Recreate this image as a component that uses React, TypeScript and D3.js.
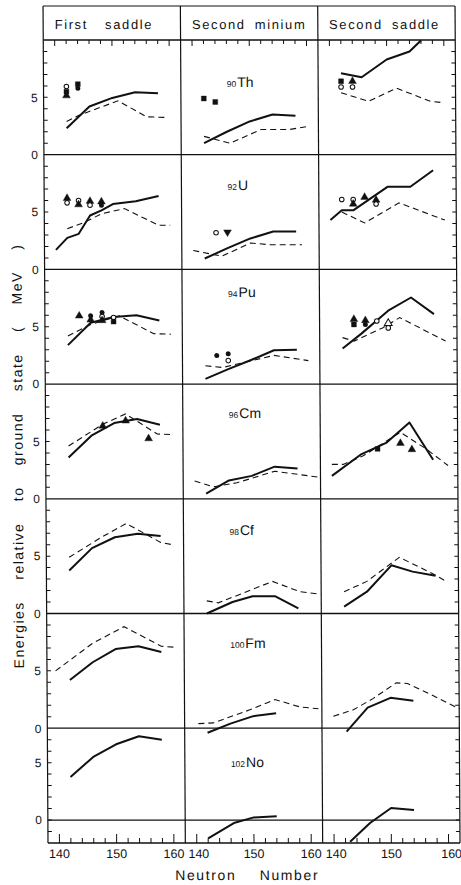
import React from "react";
import * as d3 from "d3";

type Pt = [number, number];
type Mk = [number, number, string];

// ---------- text ----------
const columnTitles = ["First saddle", "Second minium", "Second saddle"];
const atomicNumbers = ["90", "92", "94", "96", "98", "100", "102"];
const elements = ["Th", "U", "Pu", "Cm", "Cf", "Fm", "No"];
const nTickLabels = [140, 150, 160];
const eTickLabels = [0, 5];
const xTitle = "Neutron Number";
const yTitle = "Energies relative to ground state ( MeV )";

// ---------- data: [neutron number, energy MeV] ----------
const solidFirstSaddle: Pt[][] = [
  [[142, 2.3], [146, 4.2], [150, 4.95], [154, 5.45], [158, 5.35]],
  [[140, 1.7], [142, 2.75], [144, 3.1], [146, 4.7], [148, 5.15], [150, 5.7], [154, 5.95], [158, 6.4]],
  [[142, 3.4], [146, 5.35], [150, 5.85], [154, 6.0], [158, 5.55]],
  [[142, 3.6], [146, 5.5], [150, 6.6], [154, 6.95], [158, 6.45]],
  [[142, 3.75], [146, 5.7], [150, 6.65], [154, 6.95], [158, 6.75]],
  [[142, 4.2], [146, 5.75], [150, 6.9], [154, 7.15], [158, 6.65]],
  [[142, 3.75], [146, 5.5], [150, 6.6], [154, 7.3], [158, 7.0]],
];
const dashedFirstSaddle: Pt[][] = [
  [[142, 2.9], [144, 3.4], [151, 4.7], [156, 3.3], [159.5, 3.25]],
  [[142, 3.55], [145, 4.1], [148, 4.85], [152, 5.3], [158, 3.85], [160, 3.85]],
  [[142, 4.2], [146, 5.2], [151, 5.95], [157, 4.4], [160, 4.35]],
  [[142, 4.6], [148, 6.5], [152, 7.4], [157.5, 5.65], [160, 5.6]],
  [[142, 4.9], [147.5, 6.6], [152, 7.85], [158, 6.2], [160, 6.0]],
  [[139.5, 5.0], [146, 7.4], [151.5, 8.85], [158, 7.15], [160.5, 7.05]],
  [],
];
const markersFirstSaddle: Mk[][] = [
  [[142, 5.95, "oc"], [142, 5.5, "fs"], [142, 5.15, "ft"], [144, 6.15, "fs"], [144, 5.8, "fc"]],
  [[142, 6.2, "ft"], [142, 5.8, "oc"], [144, 6.0, "oc"], [144, 5.65, "ft"], [146, 5.95, "ft"], [146, 5.6, "oc"], [148, 5.9, "ft"], [148, 5.6, "fc"]],
  [[144, 5.95, "ft"], [146, 5.95, "fc"], [146, 5.6, "ft"], [148, 6.25, "fc"], [148, 5.9, "oc"], [148, 5.55, "ft"], [150, 5.8, "oc"], [150, 5.45, "fs"]],
  [[148, 6.35, "ft"], [152, 6.8, "ft"], [156, 5.25, "ft"]],
  [], [], [],
];

const solidSecondMin: Pt[][] = [
  [[142, 1.0], [146, 2.0], [150, 2.9], [154, 3.5], [158, 3.4]],
  [[142, 0.95], [146, 1.85], [150, 2.7], [154, 3.3], [158, 3.3]],
  [[142, 0.45], [146, 1.3], [150, 2.1], [154, 2.95], [158, 3.0]],
  [[142, 0.45], [146, 1.6], [150, 2.0], [154, 2.8], [158, 2.65]],
  [[142, 0.0], [146.5, 1.0], [150, 1.5], [154, 1.5], [158, 0.45]],
  [[142, -0.4], [146, 0.4], [150, 1.05], [154, 1.3]],
  [[142, -1.6], [146.5, -0.26], [150, 0.23], [154, 0.32]],
];
const dashedSecondMin: Pt[][] = [
  [[142, 1.6], [146.5, 1.0], [152, 2.2], [157, 2.2], [160.5, 2.5]],
  [[140, 1.65], [145, 1.15], [150, 2.3], [153.5, 2.15], [159, 2.15]],
  [[142, 1.6], [145, 1.45], [154, 2.5], [160, 2.05]],
  [[140, 1.55], [143.3, 1.05], [147.4, 1.4], [154, 2.4], [161.5, 1.9]],
  [[142, 1.1], [144, 0.93], [149.5, 2.0], [153.5, 2.8], [158.3, 1.9], [161.5, 1.7]],
  [[140.4, 0.4], [143, 0.46], [149.4, 1.6], [153.8, 2.5], [158.2, 1.85], [161.4, 1.7]],
  [],
];
const markersSecondMin: Mk[][] = [
  [[142, 4.9, "fs"], [144, 4.6, "fs"]],
  [[144, 3.2, "oc"], [146, 3.25, "fit"]],
  [[144, 2.5, "fc"], [146, 2.65, "fc"], [146, 2.05, "oc"]],
  [], [], [], [],
];

const solidSecondSaddle: Pt[][] = [
  [[142, 7.1], [145.6, 6.75], [150, 8.3], [154, 9.0], [156, 9.95]],
  [[140, 4.3], [142, 5.15], [144, 5.15], [150, 7.2], [154, 7.2], [158, 8.65]],
  [[142, 3.1], [145.3, 4.4], [150, 6.4], [154, 7.55], [158, 6.1]],
  [[140, 2.0], [145.2, 3.9], [149.6, 4.9], [153.6, 6.65], [157.7, 3.4]],
  [[142, 0.6], [146, 1.9], [150.3, 4.2], [154, 3.65], [158, 3.3]],
  [[142.3, -0.3], [146, 1.8], [150, 2.65], [154, 2.4]],
  [[142.8, -1.9], [146.3, -0.26], [150, 1.05], [154, 0.87]],
];
const dashedSecondSaddle: Pt[][] = [
  [[142, 5.4], [146.8, 4.65], [151.7, 5.8], [157.6, 4.65], [159.6, 4.55]],
  [[142, 5.0], [146, 4.05], [152, 5.8], [160, 4.3]],
  [[142, 4.05], [144, 3.75], [149, 4.9], [152, 5.8], [160, 3.75]],
  [[140, 3.0], [142, 3.0], [145.5, 3.75], [152, 5.8], [156.5, 4.35], [160.3, 2.9]],
  [[142, 1.9], [146, 2.8], [151.7, 4.9], [157.6, 3.45], [160, 2.75]],
  [[140, 1.05], [143.5, 1.6], [147, 2.6], [151, 3.95], [153, 3.9], [156.8, 3.0], [162, 1.7]],
  [],
];
const markersSecondSaddle: Mk[][] = [
  [[142, 6.4, "fs"], [142, 5.9, "oc"], [144, 6.4, "ft"], [144, 5.9, "oc"]],
  [[142, 6.1, "oc"], [144, 6.1, "oc"], [144, 5.7, "ft"], [146, 6.3, "ft"], [148, 6.05, "ft"], [148, 5.7, "oc"]],
  [[144, 5.65, "ft"], [144, 5.2, "fs"], [146, 5.55, "ft"], [146, 5.2, "fc"], [148, 5.5, "oc"], [150, 5.3, "ot"], [150, 4.9, "oc"]],
  [[148, 4.35, "fs"], [152, 4.85, "ft"], [154, 4.3, "ft"]],
  [], [], [],
];

const solidCols = [solidFirstSaddle, solidSecondMin, solidSecondSaddle];
const dashedCols = [dashedFirstSaddle, dashedSecondMin, dashedSecondSaddle];
const markerCols = [markersFirstSaddle, markersSecondMin, markersSecondSaddle];

// ---------- layout ----------
const L = 43;
const R = 455;
const HEAD_TOP = 6;
const HEAD_BOT = 40;
const ROW_H = 114.7;
const BOTTOM = 843;
const labelE = [5.9, 6.9, 7.6, 7.05, 6.85, 7.0, 4.6];
const titleShift = [-8, 0, -2];
const titleWordSpacing = [12, 4, 4];
const FONT = "'Liberation Sans', Arial, sans-serif";
const INK = "#111";

const colW = (R - L) / 3;
const xScales = [0, 1, 2].map((c) =>
  d3.scaleLinear().domain([138, 162]).range([L + c * colW, L + (c + 1) * colW])
);
const yScales = d3.range(7).map((r) => {
  const top = HEAD_BOT + r * ROW_H;
  return r < 6
    ? d3.scaleLinear().domain([0, 10]).range([top + ROW_H, top])
    : d3.scaleLinear().domain([-2, 8]).range([BOTTOM, top]);
});

function Marker({ x, y, t }: { x: number; y: number; t: string }) {
  if (t === "oc") return <circle cx={x} cy={y} r={2.3} fill="#fff" stroke={INK} strokeWidth={1} />;
  if (t === "fc") return <circle cx={x} cy={y} r={2.5} fill={INK} />;
  const sym = t === "fs" ? d3.symbolSquare : d3.symbolTriangle;
  const size = t === "fs" ? 24 : 26;
  const path = d3.symbol(sym, size)() || "";
  const rot = t === "fit" ? 180 : 0;
  const filled = t !== "ot";
  return (
    <path
      d={path}
      transform={`translate(${x},${y}) rotate(${rot})`}
      fill={filled ? INK : "#fff"}
      stroke={INK}
      strokeWidth={filled ? 0.4 : 1}
    />
  );
}

export default function App() {
  const line = (c: number, r: number) =>
    d3
      .line<Pt>()
      .x((d) => xScales[c](d[0]))
      .y((d) => yScales[r](d[1]));

  const nTicks = d3.range(138, 163, 2);

  return (
    <svg
      width={461}
      height={885}
      style={{ position: "absolute", left: 0, top: 0, background: "#fff" }}
      fontFamily={FONT}
    >
      <g transform="skewX(0.34)">
        {/* header box */}
        <line x1={L} x2={R} y1={HEAD_TOP} y2={HEAD_TOP} stroke={INK} strokeWidth={1.2} />
        {columnTitles.map((t, c) => (
          <text
            key={t}
            x={xScales[c].range()[0] + colW / 2 + titleShift[c]}
            y={29}
            textAnchor="middle"
            fontSize={13}
            letterSpacing={1.6}
            wordSpacing={titleWordSpacing[c]}
            fill={INK}
          >
            {t}
          </text>
        ))}
        {/* horizontal separators */}
        {d3.range(7).map((r) => (
          <line
            key={"h" + r}
            x1={L}
            x2={R}
            y1={yScales[r].range()[1]}
            y2={yScales[r].range()[1]}
            stroke={INK}
            strokeWidth={1.3}
          />
        ))}
        <line x1={L} x2={R} y1={yScales[6](0)} y2={yScales[6](0)} stroke={INK} strokeWidth={1.3} />
        <line x1={L} x2={R} y1={BOTTOM} y2={BOTTOM} stroke={INK} strokeWidth={1.3} />
        {/* vertical lines */}
        {[0, 1, 2, 3].map((i) => (
          <line
            key={"v" + i}
            x1={L + i * colW}
            x2={L + i * colW}
            y1={HEAD_TOP}
            y2={BOTTOM}
            stroke={INK}
            strokeWidth={1.2}
          />
        ))}
        {/* energy ticks on left and right */}
        {d3.range(7).map((r) => {
          const dom = yScales[r].domain();
          const vals = d3.range(dom[0] + 1, dom[1]);
          return (
            <g key={"et" + r} stroke={INK} strokeWidth={1}>
              {vals.map((v) => (
                <g key={v}>
                  <line x1={L} x2={L + 4} y1={yScales[r](v)} y2={yScales[r](v)} />
                  <line x1={R - 4} x2={R} y1={yScales[r](v)} y2={yScales[r](v)} />
                </g>
              ))}
            </g>
          );
        })}
        {/* energy tick labels */}
        {d3.range(7).map((r) =>
          eTickLabels.map((v) => (
            <text
              key={"el" + r + v}
              x={L - 6}
              y={yScales[r](v)}
              dy="0.36em"
              textAnchor="end"
              fontSize={12}
              fill={INK}
            >
              {v}
            </text>
          ))
        )}
        {/* neutron ticks top & bottom */}
        {[0, 1, 2].map((c) => (
          <g key={"nt" + c} stroke={INK} strokeWidth={1}>
            {nTicks.map((n) => (
              <g key={n}>
                {n > 138 && n < 162 && (
                  <line x1={xScales[c](n)} x2={xScales[c](n)} y1={HEAD_BOT} y2={HEAD_BOT + (n % 10 === 0 ? 6 : 4)} />
                )}
                {n > 138 && n < 162 && (
                  <line x1={xScales[c](n)} x2={xScales[c](n)} y1={BOTTOM} y2={BOTTOM - (n % 10 === 0 ? 9 : 5)} />
                )}
              </g>
            ))}
          </g>
        ))}
        {[0, 1, 2].map((c) =>
          nTickLabels.map((n) => (
            <text
              key={"nl" + c + n}
              x={xScales[c](n) + (n === 140 && c > 0 ? 2 : 0) + (n === 160 && c === 2 ? 3 : 0)}
              y={858}
              textAnchor="middle"
              fontSize={12.5}
              fill={INK}
            >
              {n}
            </text>
          ))
        )}
        {/* data */}
        {[0, 1, 2].map((c) =>
          d3.range(7).map((r) => (
            <g key={"d" + c + r}>
              {dashedCols[c][r].length > 0 && (
                <path
                  d={line(c, r)(dashedCols[c][r]) || ""}
                  fill="none"
                  stroke={INK}
                  strokeWidth={1.1}
                  strokeDasharray="6,4"
                />
              )}
              {solidCols[c][r].length > 0 && (
                <path
                  d={line(c, r)(solidCols[c][r]) || ""}
                  fill="none"
                  stroke={INK}
                  strokeWidth={2}
                  strokeLinejoin="round"
                />
              )}
              {markerCols[c][r].map((m, i) => (
                <Marker key={i} x={xScales[c](m[0])} y={yScales[r](m[1])} t={m[2]} />
              ))}
            </g>
          ))
        )}
        {/* nucleus labels */}
        {elements.map((el, r) => (
          <text key={el} x={xScales[1].range()[0] + 46} y={yScales[r](labelE[r])} fill={INK}>
            <tspan fontSize={8.5}>{atomicNumbers[r]}</tspan>
            <tspan fontSize={14} dx={1}>
              {el}
            </tspan>
          </text>
        ))}
        {/* axis titles */}
        <text
          x={242}
          y={880}
          textAnchor="middle"
          fontSize={14}
          letterSpacing={1.6}
          wordSpacing={18}
          fill={INK}
        >
          {xTitle}
        </text>
        <text
          transform="translate(20,456) rotate(-90)"
          textAnchor="middle"
          fontSize={14}
          letterSpacing={1.5}
          wordSpacing={16}
          fill={INK}
        >
          {yTitle}
        </text>
      </g>
    </svg>
  );
}
